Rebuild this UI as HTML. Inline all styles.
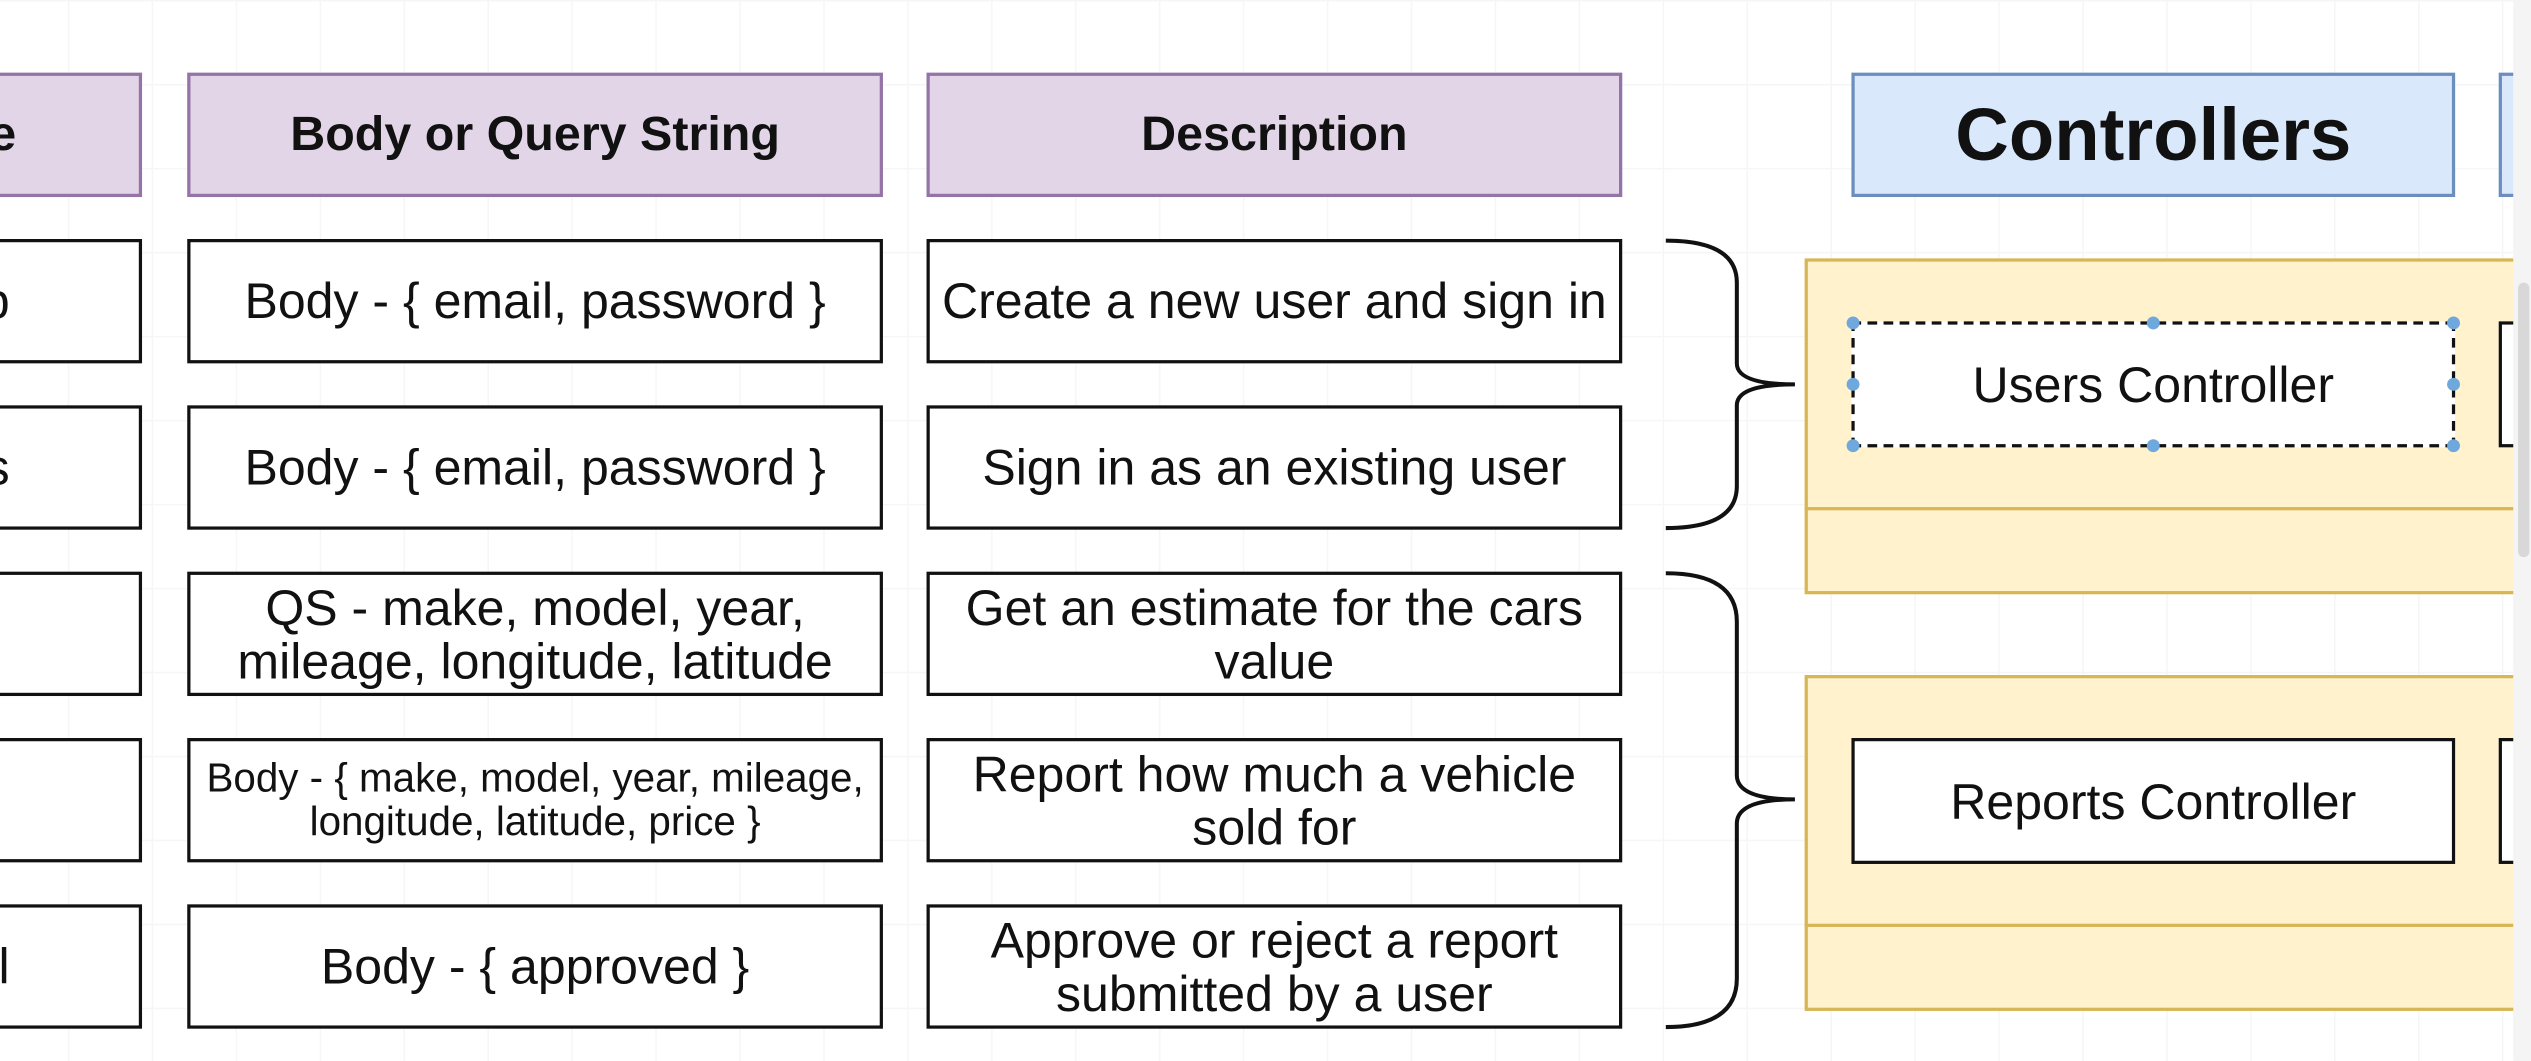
<!DOCTYPE html>
<html><head><meta charset="utf-8"><style>
html,body{margin:0;padding:0;background:#fff;overflow:hidden}
#c{position:absolute;left:0;top:0;width:1568px;height:657px;transform-origin:0 0;transform:scale(1.61416,1.6149);
background-color:#fff;background-image:linear-gradient(#f6f6f6 1px,transparent 1px),linear-gradient(90deg,#f6f6f6 1px,transparent 1px);background-size:52px 52px;background-position:-10px 0;
font-family:"Liberation Sans",Arial,sans-serif;overflow:hidden}
.b{position:absolute;box-sizing:border-box;border:2px solid #111;background:#fff;display:flex;align-items:center;justify-content:center;text-align:center;color:#111;font-size:31px;line-height:33px;white-space:nowrap}
.h{background:#e1d5e7;border-color:#9673a6;font-weight:bold;font-size:30px}
.ch{background:#dae8fc;border-color:#6c8ebf;font-weight:bold;font-size:46px}
.y{position:absolute;box-sizing:border-box;background:#fff2cc;border:2px solid #d6b656}
.dot{position:absolute;width:8px;height:8px;border-radius:50%;background:#6fa8dc;margin:-4px 0 0 -4px}
</style></head><body><div id="c">
<div class="b h" style="left:-60px;top:45px;width:148px;height:77px;justify-content:flex-end;padding-right:76px">e</div>
<div class="b h" style="left:116px;top:45px;width:431px;height:77px">Body or Query String</div>
<div class="b h" style="left:574px;top:45px;width:431px;height:77px">Description</div>
<div class="b ch" style="left:1147px;top:45px;width:374px;height:77px">Controllers</div>
<div class="b ch" style="left:1548px;top:45px;width:60px;height:77px"></div>

<div class="b" style="left:-60px;top:148px;width:148px;height:77px;justify-content:flex-end;padding-right:80px">p</div>
<div class="b" style="left:-60px;top:251px;width:148px;height:77px;justify-content:flex-end;padding-right:80px">s</div>
<div class="b" style="left:-60px;top:354px;width:148px;height:77px"></div>
<div class="b" style="left:-60px;top:457px;width:148px;height:77px"></div>
<div class="b" style="left:-60px;top:560px;width:148px;height:77px;justify-content:flex-end;padding-right:80px">l</div>

<div class="b" style="left:116px;top:148px;width:431px;height:77px">Body - { email, password }</div>
<div class="b" style="left:116px;top:251px;width:431px;height:77px">Body - { email, password }</div>
<div class="b" style="left:116px;top:354px;width:431px;height:77px">QS - make, model, year,<br>mileage, longitude, latitude</div>
<div class="b" style="left:116px;top:457px;width:431px;height:77px;font-size:25px;line-height:27px">Body - { make, model, year, mileage,<br>longitude, latitude, price }</div>
<div class="b" style="left:116px;top:560px;width:431px;height:77px">Body - { approved }</div>

<div class="b" style="left:574px;top:148px;width:431px;height:77px">Create a new user and sign in</div>
<div class="b" style="left:574px;top:251px;width:431px;height:77px">Sign in as an existing user</div>
<div class="b" style="left:574px;top:354px;width:431px;height:77px">Get an estimate for the cars<br>value</div>
<div class="b" style="left:574px;top:457px;width:431px;height:77px">Report how much a vehicle<br>sold for</div>
<div class="b" style="left:574px;top:560px;width:431px;height:77px">Approve or reject a report<br>submitted by a user</div>

<svg style="position:absolute;left:0;top:0" width="1568" height="657">
<path d="M1032 149 Q1076 149 1076 175 L1076 225 Q1076 238 1112 238 Q1076 238 1076 251 L1076 301 Q1076 327 1032 327" fill="none" stroke="#111" stroke-width="2.5"/>
<path d="M1032 355 Q1076 355 1076 385 L1076 480 Q1076 495 1112 495 Q1076 495 1076 510 L1076 606 Q1076 636 1032 636" fill="none" stroke="#111" stroke-width="2.5"/>
</svg>

<div class="y" style="left:1118px;top:160px;width:460px;height:208px"></div>
<div style="position:absolute;left:1118px;top:314px;width:460px;height:2px;background:#d6b656"></div>
<div class="y" style="left:1118px;top:418px;width:460px;height:208px"></div>
<div style="position:absolute;left:1118px;top:572px;width:460px;height:2px;background:#d6b656"></div>

<div class="b" style="left:1147px;top:199px;width:374px;height:78px;border:2px dashed #111">Users Controller</div>
<div class="b" style="left:1548px;top:199px;width:60px;height:78px"></div>
<div class="dot" style="left:1148px;top:200px"></div><div class="dot" style="left:1334px;top:200px"></div><div class="dot" style="left:1520px;top:200px"></div>
<div class="dot" style="left:1148px;top:238px"></div><div class="dot" style="left:1520px;top:238px"></div>
<div class="dot" style="left:1148px;top:276px"></div><div class="dot" style="left:1334px;top:276px"></div><div class="dot" style="left:1520px;top:276px"></div>
<div class="b" style="left:1147px;top:457px;width:374px;height:78px">Reports Controller</div>
<div class="b" style="left:1548px;top:457px;width:60px;height:78px"></div>
<div style="position:absolute;left:1557px;top:0;width:11px;height:657px;background:#f4f4f4"></div>
<div style="position:absolute;left:1560px;top:175px;width:7px;height:170px;background:#d8d8d8;border-radius:4px"></div>
</div></body></html>
